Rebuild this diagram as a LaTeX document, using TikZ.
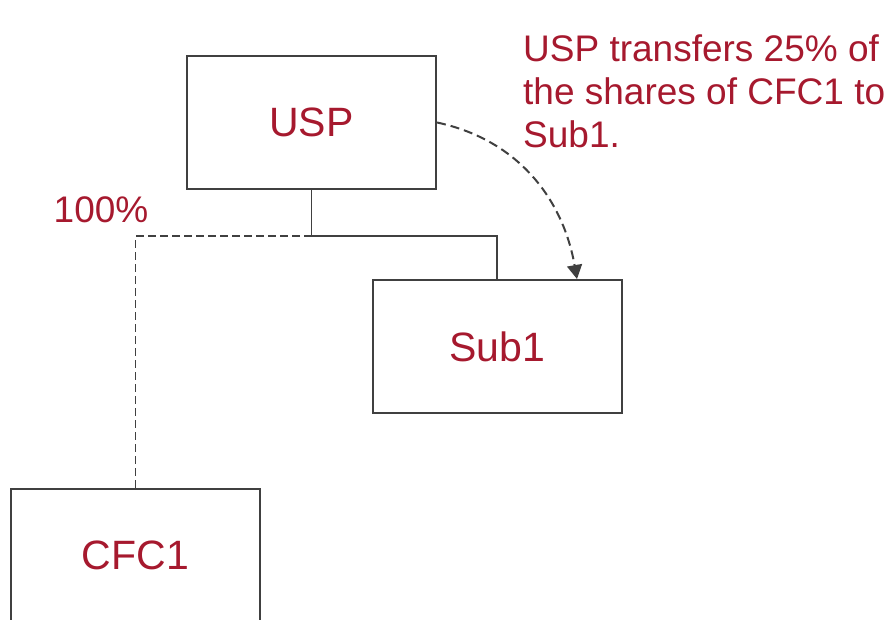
\documentclass[tikz,border=0pt]{standalone}
\usepackage{fontspec}
\setmainfont{Liberation Sans}
\usepackage{xcolor}
\usetikzlibrary{positioning,arrows.meta}

\definecolor{deepred}{HTML}{A6192E}
\definecolor{linegray}{HTML}{404040}

\begin{document}
\begin{tikzpicture}[
    x=1pt,y=-1pt,
    entity/.style={rectangle,draw=linegray,line width=2pt,minimum width=249pt,minimum height=133pt,
        text=deepred,font=\fontsize{41}{49}\selectfont},
    owns/.style={draw=linegray,line width=1.6pt},
    moveline/.style={draw=linegray,line width=2pt,dash pattern=on 9pt off 5pt},
    note/.style={text=deepred,font=\fontsize{37}{43}\selectfont,align=left,inner sep=0pt}
]
    \clip (0,0) rectangle (890,620);

    % Entities
    \node[entity] (USP) at (311.5,122.5) {USP};
    \node[entity] (SUB) at (497,346.5) {Sub1};
    \node[entity] (CFC) at (135.5,555) {CFC1};

    % Ownership lines
    \coordinate (split) at (311.5,236);
    \draw[owns] (USP.south) -- (split) -| (SUB.north);
    \draw[owns,dash pattern=on 8pt off 4pt] (split) -| (CFC.north);
    \node[note] (pct) at (101,210) {100\%};

    % Share transfer
    \coordinate (tip) at (577,279);
    \draw[moveline,-{Triangle[length=14pt,width=15pt]}] (USP.east) to[out=-12,in=100] (tip);
    \node[note,anchor=north west] (txt) at (523,35) {USP transfers 25\% of\\the shares of CFC1 to\\Sub1.};
\end{tikzpicture}
\end{document}
